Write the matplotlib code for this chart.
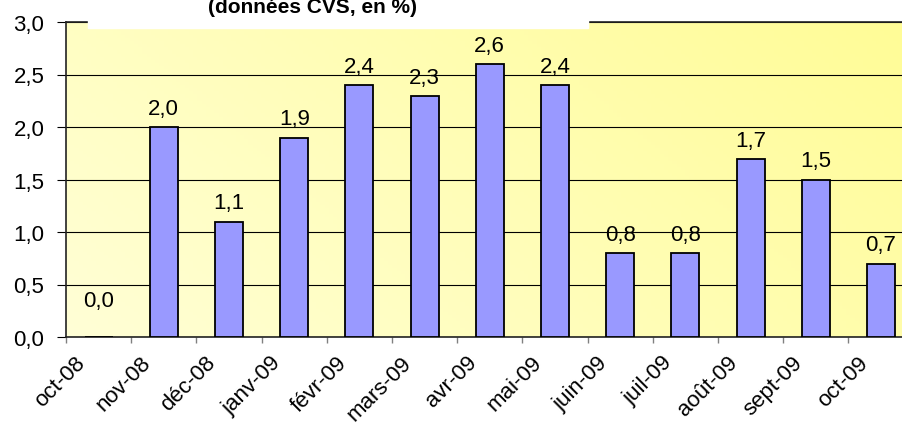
import numpy as np
import matplotlib
matplotlib.use("Agg")
import matplotlib.pyplot as plt
from matplotlib import transforms
from matplotlib.colors import LinearSegmentedColormap
from matplotlib.patches import Rectangle

plt.rcParams['font.family'] = ['Liberation Sans', 'DejaVu Sans']

# data
months = ["oct-08", "nov-08", "déc-08", "janv-09", "févr-09", "mars-09", "avr-09",
          "mai-09", "juin-09", "juil-09", "août-09", "sept-09", "oct-09"]
values = [0.0, 2.0, 1.1, 1.9, 2.4, 2.3, 2.6, 2.4, 0.8, 0.8, 1.7, 1.5, 0.7]
y_ticks = [0.0, 0.5, 1.0, 1.5, 2.0, 2.5, 3.0]
title = "(données CVS, en %)"

W, H = 903, 427
fig = plt.figure(figsize=(W / 100, H / 100), dpi=100)
# plot area runs past the right edge of the picture, like the original
ax = fig.add_axes([66 / W, (H - 338) / H, 847.6 / W, 315 / H])

n = len(months)
ax.set_xlim(0, n)
ax.set_ylim(0, 3)

# pale yellow gradient background
cmap = LinearSegmentedColormap.from_list("bg", ["#FFFFD6", "#FFFC96"])
gx, gy = np.meshgrid(np.linspace(0, 1, 200), np.linspace(0, 1, 100))
ax.imshow((gx * 0.7 + gy * 0.3), extent=[0, n, 0, 3], origin="lower",
          aspect="auto", cmap=cmap, zorder=0)

ax.set_axisbelow(True)
ax.yaxis.grid(True, color="black", linewidth=0.8)

pos = np.arange(n) + 0.5
ax.bar(pos, values, width=0.43, color="#9999FF", edgecolor="black",
       linewidth=1.3, zorder=3)

for x, v in zip(pos, values):
    ax.annotate(f"{v:.1f}".replace(".", ","), (x, v),
                xytext=(0, 13 if v > 0 else 31), textcoords="offset pixels",
                ha="center", va="baseline", fontsize=16)

ax.set_yticks(y_ticks)
ax.set_yticklabels([f"{t:.1f}".replace(".", ",") for t in y_ticks], fontsize=16)
ax.tick_params(axis="y", length=6.5, width=0.8, pad=9)

ax.set_xticks(np.arange(n))
ax.set_xticklabels(months, rotation=45, ha="right", rotation_mode="anchor", fontsize=16)
ax.tick_params(axis="x", length=4.5, width=1, color="gray", pad=6)
shift = transforms.ScaledTranslation(9 / 100, 0, fig.dpi_scale_trans)
for lab in ax.get_xticklabels():
    lab.set_transform(lab.get_transform() + shift)

for side in ["left", "bottom", "top"]:
    ax.spines[side].set_color("#222222")
    ax.spines[side].set_linewidth(1.2)
ax.spines["right"].set_visible(False)

# white title box overlapping the top of the plot (title is clipped at the top, as in the source)
fig.add_artist(Rectangle((88 / W, (H - 29) / H), 500 / W, 29 / H,
                         transform=fig.transFigure, color="white", zorder=5))
fig.text(313 / W, (H - 13) / H, title, ha="center", va="baseline",
         fontsize=15, fontweight="bold", zorder=6)

fig.savefig("out.png", dpi=100)
